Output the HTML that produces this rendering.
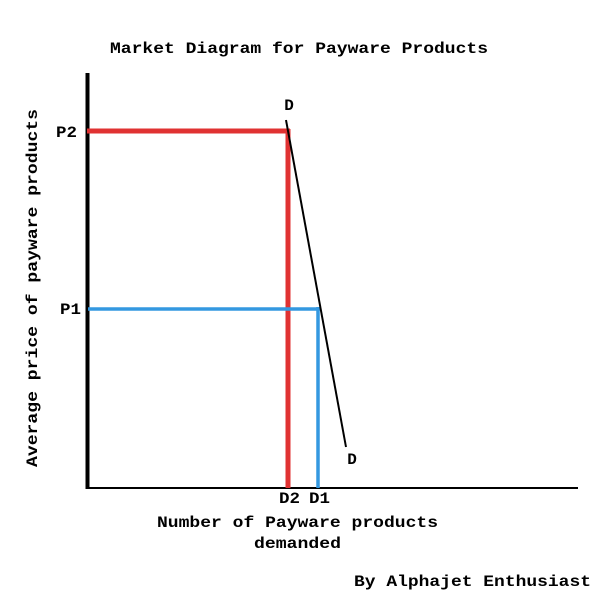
<!DOCTYPE html>
<html><head><style>body{margin:0;background:#fff}</style></head><body>
<svg width="600" height="600" xmlns="http://www.w3.org/2000/svg" font-family="'Liberation Mono', monospace" font-weight="bold" font-size="16" fill="#000">
<rect width="600" height="600" fill="#fff"/>
<text x="110" y="53" textLength="378" lengthAdjust="spacingAndGlyphs">Market Diagram for Payware Products</text>
<line x1="87.5" y1="73" x2="87.5" y2="489" stroke="#000" stroke-width="4"/>
<line x1="86" y1="488" x2="578" y2="488" stroke="#000" stroke-width="2"/>
<line x1="87" y1="131" x2="290" y2="131" stroke="#e03232" stroke-width="5"/>
<line x1="288" y1="129" x2="288" y2="488" stroke="#e03232" stroke-width="5"/>
<line x1="88" y1="309" x2="320" y2="309" stroke="#3498e0" stroke-width="3.5"/>
<line x1="318" y1="307" x2="318" y2="488" stroke="#3498e0" stroke-width="3.5"/>
<line x1="286" y1="120" x2="346" y2="447" stroke="#000" stroke-width="2"/>
<text x="289" y="110" text-anchor="middle">D</text>
<text x="352" y="464" text-anchor="middle">D</text>
<text x="56" y="137" textLength="21" lengthAdjust="spacingAndGlyphs">P2</text>
<text x="60" y="314" textLength="21" lengthAdjust="spacingAndGlyphs">P1</text>
<text x="279" y="503" textLength="21" lengthAdjust="spacingAndGlyphs">D2</text>
<text x="309" y="503" textLength="21" lengthAdjust="spacingAndGlyphs">D1</text>
<text x="157" y="527" textLength="281" lengthAdjust="spacingAndGlyphs">Number of Payware products</text>
<text x="254" y="548" textLength="87" lengthAdjust="spacingAndGlyphs">demanded</text>
<text x="354" y="586" textLength="237" lengthAdjust="spacingAndGlyphs">By Alphajet Enthusiast</text>
<text transform="translate(37,467) rotate(-90)" textLength="358" lengthAdjust="spacingAndGlyphs">Average price of payware products</text>
</svg>
</body></html>
